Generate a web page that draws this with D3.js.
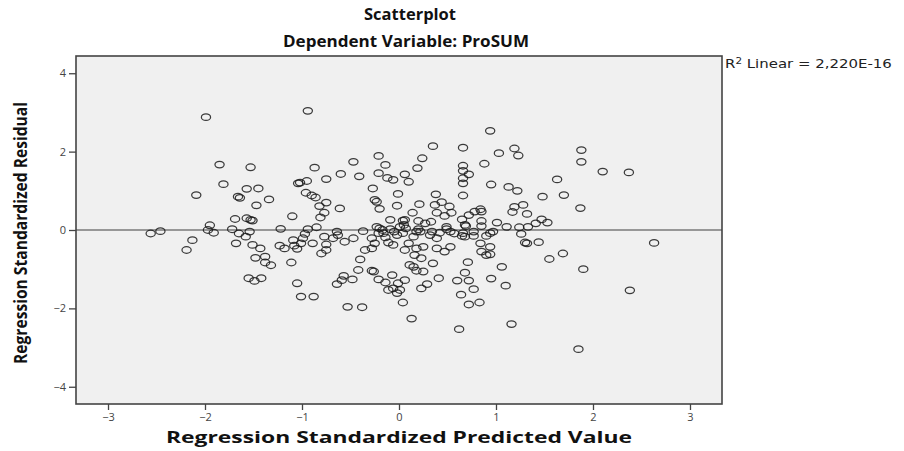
<!DOCTYPE html>
<html><head><meta charset="utf-8">
<script src="https://cdn.jsdelivr.net/npm/d3@7"></script>
<style>
body{margin:0;background:#fff;}
svg{display:block;}
</style></head>
<body><svg id="c" width="904" height="451"></svg>
<script>
// Regression standardized predicted values (x) and residuals (y)
const predicted = [-1.99,-1.85,-1.53,-1.81,-2.09,-1.57,-1.45,-1.66,-1.64,-1.34,-1.47,-1.10,-1.69,-1.57,-1.53,-1.51,-1.95,-1.97,-1.91,-2.56,-2.46,-1.72,-1.65,-1.54,-1.58,-1.22,-2.13,-1.68,-1.51,-2.19,-1.43,-1.48,-1.38,-1.38,-1.32,-1.11,-1.55,-1.49,-1.42,-1.05,-1.01,-0.88,-1.23,-1.18,-1.09,-1.08,-1.05,-0.94,-0.87,-0.75,-1.04,-1.02,-0.95,-0.96,-0.90,-0.86,-0.75,-0.82,-0.77,-0.81,-0.85,-0.94,-0.97,-0.99,-0.77,-0.89,-1.01,-0.75,-0.75,-0.80,
0.94,0.35,0.66,-0.21,0.24,-0.47,1.03,-0.14,0.88,0.19,0.66,0.66,0.72,0.66,0.66,-0.60,-0.41,-0.21,-0.12,-0.06,0.06,0.10,0.95,-0.27,-0.01,0.38,0.66,-0.25,-0.23,-0.20,-0.02,0.21,0.37,0.44,0.52,-0.61,0.39,0.54,0.47,0.14,0.20,0.33,-0.09,0.04,0.06,0.65,0.72,0.78,0.84,0.85,0.85,0.69,1.01,-0.37,-0.23,-0.20,-0.17,-0.09,-0.05,0.07,0.20,0.22,0.34,0.49,0.53,0.57,0.65,0.68,0.77,0.90,0.97,
-0.64,-0.63,-0.68,-0.56,-0.47,-0.35,-0.28,-0.25,-0.28,-0.21,-0.16,-0.14,-0.11,-0.06,0.01,0.05,0.04,-0.02,0.06,0.10,0.15,0.18,0.27,0.16,0.18,0.25,0.23,0.32,0.39,0.42,0.39,0.47,0.53,0.49,0.66,0.68,0.77,0.84,0.85,0.94,0.90,0.94,-0.40,-0.42,-0.28,-0.26,-0.57,-0.59,-0.64,-0.48,-0.21,-0.14,-0.11,-0.06,-0.01,0.01,-0.02,-0.07,0.06,0.11,0.15,0.18,0.25,0.35,0.41,0.23,0.29,0.04,0.13,-0.53,-0.38,0.71,0.68,0.72,0.60,0.77,0.64,0.72,0.83,0.62,0.95,1.06,
1.19,1.23,1.13,1.22,1.19,1.28,1.17,1.32,0.85,1.11,1.24,1.33,1.26,1.30,1.32,0.94,1.10,1.16,1.88,1.88,2.10,2.37,1.63,1.48,1.70,1.87,1.47,1.53,1.41,1.44,2.63,1.69,1.55,1.90,2.38,1.85];
const residual = [2.88,1.67,1.60,1.17,0.89,1.05,1.06,0.85,0.82,0.78,0.63,0.35,0.28,0.30,0.26,0.24,0.12,0.00,-0.07,-0.09,-0.03,0.02,-0.09,-0.04,-0.17,0.03,-0.26,-0.34,-0.38,-0.51,-0.47,-0.71,-0.68,-0.83,-0.90,-0.83,-1.23,-1.30,-1.23,-1.36,-1.70,-1.70,-0.40,-0.47,-0.26,-0.40,-0.48,3.04,1.59,1.30,1.19,1.21,1.25,0.95,0.88,0.83,0.70,0.61,0.44,0.32,0.07,0.02,-0.10,-0.21,-0.17,-0.34,-0.34,-0.37,-0.51,-0.60,
2.53,2.14,2.10,1.89,1.83,1.74,1.96,1.66,1.69,1.58,1.64,1.51,1.42,1.32,1.19,1.43,1.37,1.45,1.33,1.28,1.42,1.23,1.16,1.06,0.92,0.91,0.88,0.77,0.72,0.54,0.62,0.66,0.64,0.71,0.60,0.55,0.44,0.44,0.36,0.44,0.23,0.21,0.26,0.24,0.26,0.27,0.38,0.47,0.53,0.47,0.23,0.10,0.19,-0.03,0.08,0.04,0.00,0.02,-0.04,0.04,0.02,-0.04,-0.04,0.02,-0.04,-0.09,-0.15,-0.17,-0.15,-0.15,-0.04,
-0.04,-0.13,-0.21,-0.30,-0.21,-0.51,-0.47,-0.34,-0.21,-0.08,-0.08,-0.19,-0.32,-0.38,0.08,0.13,-0.08,-0.13,-0.51,-0.34,-0.17,-0.04,0.17,-0.64,-0.47,-0.43,-0.72,-0.13,-0.21,-0.07,-0.47,-0.55,-0.43,0.08,-0.08,0.13,-0.04,-0.34,-0.55,-0.43,-0.64,-0.08,-0.75,-1.02,-1.04,-1.06,-1.17,-1.28,-1.38,-1.26,-1.26,-1.34,-1.53,-1.49,-1.36,-1.53,-1.61,-1.15,-1.28,-0.89,-0.94,-1.04,-1.06,-0.85,-1.23,-1.49,-1.38,-1.85,-2.26,-1.96,-1.97,-0.82,-1.09,-1.29,-1.29,-1.51,-1.65,-1.90,-1.85,-2.53,-1.24,-0.94,
2.08,1.90,1.10,1.00,0.59,0.64,0.46,0.41,0.10,0.08,0.07,0.08,-0.10,-0.32,-0.34,-0.62,-1.42,-2.40,2.04,1.74,1.49,1.47,1.29,0.85,0.89,0.56,0.27,0.19,0.17,-0.31,-0.33,-0.60,-0.74,-1.00,-1.54,-3.04];
const xTicks = [-3,-2,-1,0,1,2,3];
const yTicks = [-4,-2,0,2,4];
const xDomain = [-3.33, 3.33];
const yDomain = [-4.44, 4.44];
const titleText = "Scatterplot";
const subtitleText = "Dependent Variable: ProSUM";
const xLabel = "Regression Standardized Predicted Value";
const yLabel = "Regression Standardized Residual";
const r2Text = "2,220E-16";

const svg = d3.select("#c");
const L = 76, R = 722, T = 56, B = 404;
const x = d3.scaleLinear().domain(xDomain).range([L, R]);
const y = d3.scaleLinear().domain(yDomain).range([B, T]);

// plot background
svg.append("rect").attr("x", L).attr("y", T).attr("width", R - L).attr("height", B - T)
  .attr("fill", "#f0f0f0");

// reference line at 0
svg.append("line").attr("x1", L).attr("x2", R).attr("y1", y(0)).attr("y2", y(0))
  .attr("stroke", "#7a7a7a").attr("stroke-width", 1.5);

// points
svg.append("g").selectAll("ellipse").data(predicted.map((p, i) => [p, residual[i]]))
  .join("ellipse")
  .attr("cx", d => x(d[0])).attr("cy", d => y(d[1]))
  .attr("rx", 4.6).attr("ry", 3.3)
  .attr("fill", "none").attr("stroke", "#1a1a1a").attr("stroke-width", 1.25)
  .attr("stroke-opacity", 0.85);

// frame
svg.append("rect").attr("x", L).attr("y", T).attr("width", R - L).attr("height", B - T)
  .attr("fill", "none").attr("stroke", "#444").attr("stroke-width", 1.6);

// axes
const xa = svg.append("g").attr("transform", `translate(0,${B})`)
  .call(d3.axisBottom(x).tickValues(xTicks).tickSize(6).tickPadding(3).tickFormat(d3.format("d")));
const ya = svg.append("g").attr("transform", `translate(${L},0)`)
  .call(d3.axisLeft(y).tickValues(yTicks).tickSize(7).tickPadding(3).tickFormat(d3.format("d")));
[xa, ya].forEach(g => {
  g.select(".domain").remove();
  g.selectAll(".tick line").attr("stroke", "#444").attr("stroke-width", 1.3);
  g.selectAll(".tick text").attr("fill", "#444").attr("font-family", "Open Sans, sans-serif").attr("font-size", 11);
});

// titles
svg.append("text").attr("x", 410).attr("y", 20).attr("text-anchor", "middle")
  .attr("font-family", "Open Sans, sans-serif").attr("font-weight", "bold").attr("font-size", 16)
  .attr("fill", "#111").attr("textLength", 92).attr("lengthAdjust", "spacingAndGlyphs").text(titleText);
svg.append("text").attr("x", 406).attr("y", 47).attr("text-anchor", "middle")
  .attr("font-family", "Open Sans, sans-serif").attr("font-weight", "bold").attr("font-size", 16)
  .attr("fill", "#111").attr("textLength", 246).attr("lengthAdjust", "spacingAndGlyphs").text(subtitleText);
svg.append("text").attr("x", 399).attr("y", 443).attr("text-anchor", "middle")
  .attr("font-family", "Open Sans, sans-serif").attr("font-weight", "bold").attr("font-size", 16)
  .attr("fill", "#111").attr("textLength", 466).attr("lengthAdjust", "spacingAndGlyphs").text(xLabel);
svg.append("text").attr("transform", "translate(27,233) rotate(-90)").attr("text-anchor", "middle")
  .attr("font-family", "Open Sans, sans-serif").attr("font-weight", "bold").attr("font-size", 18)
  .attr("fill", "#111").attr("textLength", 262).attr("lengthAdjust", "spacingAndGlyphs").text(yLabel);

// R2 label
const r2 = svg.append("text").attr("transform", "translate(725,68) scale(1.3,1)")
  .attr("font-family", "DejaVu Sans, sans-serif").attr("font-size", 11.5).attr("fill", "#222");
r2.append("tspan").text("R");
r2.append("tspan").attr("dy", -4).attr("font-size", 8).text("2");
r2.append("tspan").attr("dy", 4).text(" Linear = " + r2Text);
</script></body></html>
